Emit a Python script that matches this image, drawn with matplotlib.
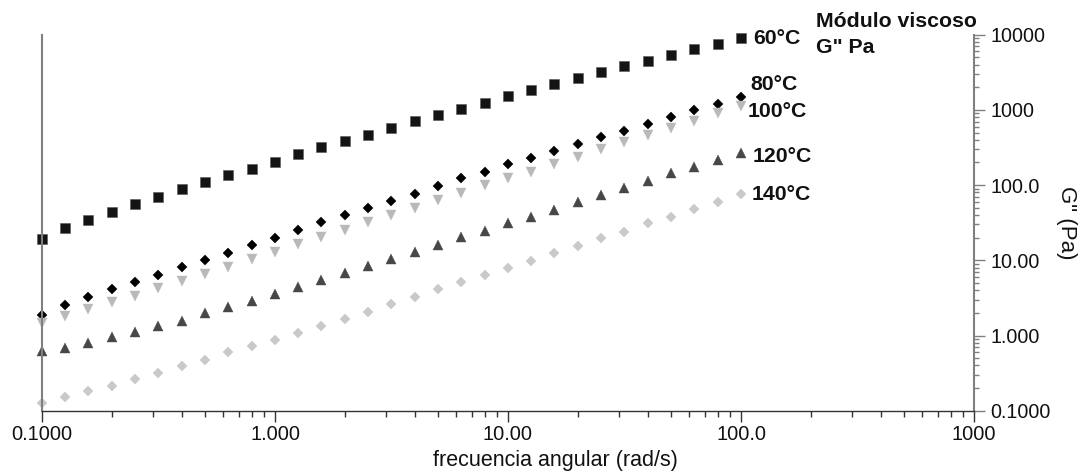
import matplotlib
matplotlib.use("Agg")
import matplotlib.pyplot as plt
from matplotlib.ticker import FixedLocator, FixedFormatter, LogLocator, NullFormatter

plt.rcParams['font.family'] = ['Liberation Sans', 'DejaVu Sans']

# Angular frequency sweep, 10 points per decade (rad/s)
freq = [0.1, 0.126, 0.158, 0.2, 0.251, 0.316, 0.398, 0.501, 0.631, 0.794,
        1.0, 1.26, 1.58, 2.0, 2.51, 3.16, 3.98, 5.01, 6.31, 7.94,
        10.0, 12.6, 15.8, 20.0, 25.1, 31.6, 39.8, 50.1, 63.1, 79.4, 100.0]

# Loss modulus G'' (Pa) at each temperature
g60 = [19.2, 27.2, 34.7, 44.3, 55.6, 68.9, 87.9, 109, 136, 165,
       205, 257, 318, 386, 468, 580, 705, 848, 1028, 1247,
       1510, 1840, 2210, 2680, 3160, 3800, 4510, 5420, 6400, 7590, 9120]
g80 = [1.87, 2.55, 3.25, 4.15, 5.10, 6.38, 8.15, 10.2, 12.6, 16.0,
       20.0, 25.1, 32.0, 40.0, 49.6, 61.5, 76.2, 97.3, 123, 151,
       189, 231, 284, 352, 440, 529, 655, 797, 997, 1197, 1471]
g100 = [1.48, 1.82, 2.23, 2.79, 3.38, 4.32, 5.30, 6.64, 8.22, 10.3,
        12.9, 16.3, 20.4, 25.3, 32.0, 40.0, 50.1, 62.8, 79.3, 99.4,
        123, 151, 191, 239, 299, 371, 464, 574, 718, 901, 1127]
g120 = [0.622, 0.689, 0.80, 0.964, 1.11, 1.34, 1.57, 1.97, 2.37, 2.87,
        3.58, 4.46, 5.47, 6.71, 8.40, 10.4, 13.0, 16.1, 20.2, 24.8,
        31.0, 38.0, 46.7, 60.1, 73.8, 92.3, 113, 144, 176, 216, 265]
g140 = [0.125, 0.152, 0.185, 0.211, 0.262, 0.317, 0.393, 0.476, 0.598, 0.724,
        0.871, 1.09, 1.35, 1.67, 2.07, 2.60, 3.25, 4.11, 5.14, 6.38,
        7.97, 9.88, 12.6, 15.6, 19.6, 24.0, 31.0, 38.0, 47.6, 60.1, 76.2]

temps = ["60°C", "80°C", "100°C", "120°C", "140°C"]

x_ticks = [0.1, 1, 10, 100, 1000]
x_tick_labels = ["0.1000", "1.000", "10.00", "100.0", "1000"]
y_ticks = [0.1, 1, 10, 100, 1000, 10000]
y_tick_labels = ["0.1000", "1.000", "10.00", "100.0", "1000", "10000"]

W, H = 1082, 473
fig = plt.figure(figsize=(W / 100, H / 100), dpi=100)
ax = fig.add_axes([42 / W, 1 - 410.7 / H, (974 - 42) / W, (410.7 - 34.7) / H])
ax.set_xscale('log')
ax.set_yscale('log')
ax.set_xlim(0.1, 1000)
ax.set_ylim(0.1, 10000)

styles = [
    dict(marker='s', ms=7.2, color='#141414', mec='#555555', mew=0.4),
    dict(marker='D', ms=5.2, color='#000000', mec='#000000', mew=0.3),
    dict(marker='v', ms=7.6, color='#b9b9b9', mec='#b9b9b9', mew=0.3),
    dict(marker='^', ms=7.6, color='#474747', mec='#474747', mew=0.3),
    dict(marker='D', ms=5.2, color='#c9c9c9', mec='#c9c9c9', mew=0.3),
]
series = [g60, g80, g100, g120, g140]
for vals, st in zip(series, styles):
    ax.plot(freq, vals, linestyle='none', clip_on=False, **st)

# Temperature labels beside the last point of each curve (offsets in pixels)
px = 72 / 100
label_offsets = [(12, -6.3), (9, 7.3), (7, -10.7), (12, -8.4), (11, -6)]
for name, vals, (dx, dy) in zip(temps, series, label_offsets):
    ax.annotate(name, xy=(freq[-1], vals[-1]), xytext=(dx * px, dy * px),
                textcoords='offset points', ha='left', va='baseline',
                fontsize=15.3, fontweight='bold', color='#111111')

fig.text(816 / W, 1 - 27.3 / H, "Módulo viscoso", ha='left', va='baseline',
         fontsize=15.3, fontweight='bold', color='#111111')
fig.text(816 / W, 1 - 52.7 / H, 'G" Pa', ha='left', va='baseline',
         fontsize=15.3, fontweight='bold', color='#111111')

# Spines
ax.spines['top'].set_visible(False)
ax.spines['left'].set_color('#808080')
ax.spines['left'].set_linewidth(1.5)
ax.spines['right'].set_color('#808080')
ax.spines['right'].set_linewidth(1.5)
ax.spines['bottom'].set_color('#333333')
ax.spines['bottom'].set_linewidth(1.0)

# X axis
ax.xaxis.set_major_locator(FixedLocator(x_ticks))
ax.xaxis.set_major_formatter(FixedFormatter(x_tick_labels))
ax.xaxis.set_minor_locator(LogLocator(base=10, subs=range(2, 10), numticks=20))
ax.xaxis.set_minor_formatter(NullFormatter())
ax.tick_params(axis='x', which='major', direction='out', length=8, width=1,
               color='#333333', labelsize=14.4, pad=2, labelcolor='#111111')
ax.tick_params(axis='x', which='minor', direction='out', length=4.3, width=1,
               color='#333333')

# Y axis on the right
ax.yaxis.tick_right()
ax.yaxis.set_major_locator(FixedLocator(y_ticks))
ax.yaxis.set_major_formatter(FixedFormatter(y_tick_labels))
ax.yaxis.set_minor_locator(LogLocator(base=10, subs=range(2, 10), numticks=20))
ax.yaxis.set_minor_formatter(NullFormatter())
ax.tick_params(axis='y', which='major', direction='out', length=8, width=1,
               color='#808080', labelsize=14.2, pad=4, labelcolor='#111111',
               left=False, right=True)
ax.tick_params(axis='y', which='minor', direction='out', length=3.6, width=1,
               color='#808080', left=False, right=True)

fig.text(555 / W, 1 - 465.5 / H, "frecuencia angular (rad/s)", ha='center',
         va='baseline', fontsize=15.5, color='#111111')
fig.text(1066 / W, 1 - 223 / H, 'G" (Pa)', rotation=270, ha='center',
         va='center', fontsize=16, color='#111111')

fig.savefig("out.png", dpi=100)
